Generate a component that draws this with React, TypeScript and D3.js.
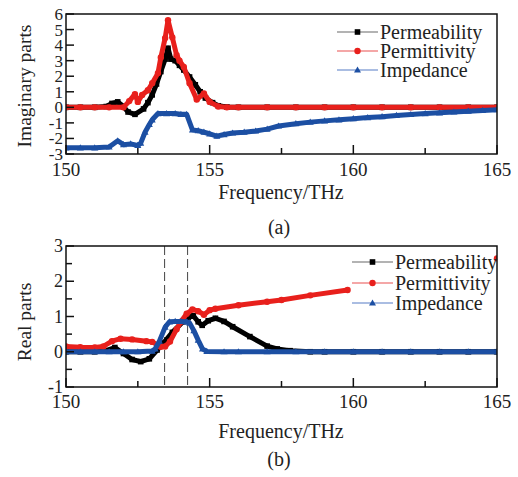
import React from 'react';
import * as d3 from 'd3';

// ---------- data ----------
const seriesNames = ['Permeability', 'Permittivity', 'Impedance'];
const xMajorTicks = [150, 155, 160, 165];
const xMinorTicks = [152.5, 157.5, 162.5];
const yTicksA = [-3, -2, -1, 0, 1, 2, 3, 4, 5, 6];
const yTicksB = [-1, 0, 1, 2, 3];
const yMinorTicksB = [-0.5, 0.5, 1.5, 2.5];
const dashedFreqs = [153.43, 154.23];

// (a) imaginary parts
const imPermX = [150, 150.5, 151, 151.4, 151.6, 151.8, 152.0, 152.16, 152.4, 152.7, 152.85, 153.0, 153.15, 153.3, 153.45, 153.55, 153.65, 153.8, 153.95, 154.1, 154.3, 154.5, 154.67, 154.85, 155.1, 155.3, 155.6, 156, 157, 158, 159, 160, 161, 162, 163, 164, 165];
const imPermY = [0, 0, 0, 0.05, 0.25, 0.35, 0.05, -0.3, -0.45, -0.1, 0.3, 0.8, 1.5, 2.3, 3.1, 3.8, 3.1, 3.0, 2.7, 2.4, 1.95, 1.45, 1.0, 0.6, 0.3, 0.1, 0.02, 0, 0, 0, 0, 0, 0, 0, 0, 0, 0];

const imPermitX = [150, 150.5, 151, 151.5, 152.0, 152.2, 152.4, 152.5, 152.65, 152.85, 153.0, 153.2, 153.3, 153.45, 153.55, 153.7, 153.85, 153.95, 154.1, 154.3, 154.55, 154.8, 155.0, 155.3, 155.6, 156, 157, 158, 159, 160, 161, 162, 163, 164, 165];
const imPermitY = [0, 0, 0, 0, 0, 0.4, 0.85, 0.35, 0.8, 1.1, 1.55, 2.2, 3.2, 4.45, 5.6, 4.5, 3.35, 3.0, 2.6, 1.55, 0.5, 0.9, 0.35, 0.05, 0, 0, 0, 0, 0, 0, 0, 0, 0, 0, 0];

const imImpX = [150, 150.5, 151, 151.5, 151.8, 152.0, 152.25, 152.5, 152.6, 152.75, 152.9, 153.0, 153.2, 153.5, 153.8, 154.0, 154.2, 154.4, 154.6, 154.8, 155.0, 155.25, 155.5, 155.8, 156.2, 156.6, 157.0, 157.4, 158.0, 158.5, 159, 159.5, 160, 160.5, 161, 161.5, 162, 162.5, 163, 163.5, 164, 164.5, 165];
const imImpY = [-2.6, -2.6, -2.6, -2.55, -2.15, -2.4, -2.35, -2.45, -2.3, -1.6, -1.1, -0.8, -0.4, -0.4, -0.4, -0.45, -0.45, -1.45, -1.5, -1.6, -1.7, -1.85, -1.75, -1.65, -1.6, -1.52, -1.4, -1.2, -1.05, -0.95, -0.87, -0.8, -0.73, -0.66, -0.6, -0.52, -0.46, -0.4, -0.35, -0.3, -0.25, -0.2, -0.15];

// (b) real parts
const rePermX = [150, 150.5, 151, 151.4, 151.7, 152.0, 152.3, 152.6, 152.9, 153.17, 153.4, 153.7, 154.07, 154.25, 154.43, 154.6, 154.74, 154.95, 155.2, 155.5, 155.8, 156.4, 157.0, 157.35, 157.8, 158.5, 159, 160, 161, 162, 163, 164, 165];
const rePermY = [0, 0, 0, 0.03, 0.12, -0.05, -0.22, -0.28, -0.2, 0.05, 0.25, 0.55, 0.85, 0.97, 1.02, 0.85, 0.75, 0.88, 0.95, 0.86, 0.71, 0.43, 0.16, 0.08, 0.03, 0, 0, 0, 0, 0, 0, 0, 0];

const rePermitX = [150, 150.5, 151, 151.3, 151.6, 151.9, 152.3, 152.8, 153.0, 153.3, 153.45, 153.62, 153.85, 154.0, 154.2, 154.4, 154.6, 154.8, 155.0, 155.2, 156.0, 157.0, 157.5, 158.5, 159.8, 160.0, 165];
const rePermitY = [0.15, 0.13, 0.12, 0.15, 0.3, 0.37, 0.35, 0.3, 0.28, 0.14, 0.15, 0.29, 0.64, 0.85, 1.08, 1.2, 1.15, 1.05, 1.18, 1.22, 1.32, 1.42, 1.47, 1.6, 1.75, null, 2.65];

const reImpX = [150, 150.5, 151, 151.5, 152, 152.5, 153.0, 153.1, 153.25, 153.45, 153.6, 153.8, 154.0, 154.2, 154.3, 154.45, 154.6, 154.75, 154.9, 155.5, 156, 157, 158, 159, 160, 161, 162, 163, 164, 165];
const reImpY = [0, 0, 0, 0, 0, 0, 0.02, 0.08, 0.3, 0.7, 0.85, 0.86, 0.86, 0.85, 0.82, 0.6, 0.33, 0.08, 0.01, 0, 0, 0, 0, 0, 0, 0, 0, 0, 0, 0];

// ---------- styles ----------
const colors = ['#000000', '#e8201c', '#1c4fa3'];
const legendLine = ['#9a9a9a', '#f08a8a', '#8ea7d8'];
const FONT = "'Liberation Serif', 'DejaVu Serif', 'Times New Roman', Times, serif";

const W = 518;
const H = 477;
const LEFT = 66;
const RIGHT = 497;

type Pt = { x: number; y: number | null };
const zip = (xs: number[], ys: (number | null)[]): Pt[] => xs.map((x, i) => ({ x, y: ys[i] }));

function Marker({ kind, x, y, color }: { kind: number; x: number; y: number; color: string }) {
  if (kind === 0) return <rect x={x - 2.8} y={y - 2.8} width={5.6} height={5.6} fill={color} />;
  if (kind === 1) return <circle cx={x} cy={y} r={3.2} fill={color} />;
  return <path d={`M${x},${y - 3.6} L${x + 3.5},${y + 2.6} L${x - 3.5},${y + 2.6} Z`} fill={color} />;
}

interface PanelProps {
  id: string;
  top: number;
  bottom: number;
  yDomain: [number, number];
  yTicks: number[];
  yMinor: number[];
  yLabel: string;
  yLabelY: number;
  series: Pt[][];
  legendX: number;
  legendLineEnd: number;
  legendRows: number[];
  dashed: number[];
  tickLabelY: number;
  titleY: number;
  caption: string;
  captionY: number;
  yTickFont: number;
}

function Panel(p: PanelProps) {
  const x = d3.scaleLinear().domain([150, 165]).range([LEFT, RIGHT]);
  const y = d3.scaleLinear().domain(p.yDomain).range([p.bottom, p.top]);
  const line = d3
    .line<Pt>()
    .defined((d) => d.y !== null)
    .x((d) => x(d.x))
    .y((d) => y(d.y as number));
  const order = [0, 1, 2];
  const txt = { fontFamily: FONT };
  return (
    <g>
      <defs>
        <clipPath id={`clip-${p.id}`}>
          <rect x={LEFT} y={p.top} width={RIGHT - LEFT} height={p.bottom - p.top} />
        </clipPath>
      </defs>
      {p.dashed.map((f, i) => (
        <line key={i} x1={x(f)} x2={x(f)} y1={p.top} y2={p.bottom} stroke="#555" strokeWidth={1.1} strokeDasharray="9,4" />
      ))}
      <g clipPath={`url(#clip-${p.id})`}>
        {order.map((si) => (
          <g key={si}>
            <path d={line(p.series[si]) || ''} fill="none" stroke={colors[si]} strokeWidth={5} strokeLinejoin="round" />
            {p.series[si]
              .filter((d) => d.y !== null)
              .map((d, j) => (
                <Marker key={j} kind={si} x={x(d.x)} y={y(d.y as number)} color={colors[si]} />
              ))}
          </g>
        ))}
      </g>
      <rect x={LEFT} y={p.top} width={RIGHT - LEFT} height={p.bottom - p.top} fill="none" stroke="#111" strokeWidth={1.5} />
      {xMajorTicks.map((t) => (
        <g key={t}>
          <line x1={x(t)} x2={x(t)} y1={p.bottom} y2={p.bottom - 9} stroke="#111" strokeWidth={1.5} />
          <text x={x(t)} y={p.tickLabelY} textAnchor="middle" style={txt} fontSize={19} fill="#222">
            {t}
          </text>
        </g>
      ))}
      {xMinorTicks.map((t) => (
        <line key={t} x1={x(t)} x2={x(t)} y1={p.bottom} y2={p.bottom - 6} stroke="#111" strokeWidth={1.5} />
      ))}
      {p.yTicks.map((t) => (
        <g key={t}>
          <line x1={LEFT} x2={LEFT + 8} y1={y(t)} y2={y(t)} stroke="#111" strokeWidth={1.5} />
          <text x={63} y={y(t) + 6} textAnchor="end" style={txt} fontSize={p.yTickFont} fill="#222">
            {t}
          </text>
        </g>
      ))}
      {p.yMinor.map((t) => (
        <line key={t} x1={LEFT} x2={LEFT + 6} y1={y(t)} y2={y(t)} stroke="#111" strokeWidth={1.5} />
      ))}
      <text
        transform={`translate(31,${p.yLabelY}) rotate(-90)`}
        textAnchor="middle"
        style={txt}
        fontSize={19.5}
        fill="#222"
      >
        {p.yLabel}
      </text>
      <text x={281} y={p.titleY} textAnchor="middle" style={txt} fontSize={20} fill="#222">
        Frequency/THz
      </text>
      <text x={279} y={p.captionY} textAnchor="middle" style={txt} fontSize={20} fill="#222">
        {p.caption}
      </text>
      {seriesNames.map((name, i) => {
        const ry = p.legendRows[i];
        const mid = (p.legendX + p.legendLineEnd) / 2;
        return (
          <g key={name}>
            <line x1={p.legendX} x2={p.legendLineEnd} y1={ry} y2={ry} stroke={legendLine[i]} strokeWidth={1.5} />
            <Marker kind={i} x={mid} y={ry} color={colors[i]} />
            <text x={p.legendLineEnd + 2} y={ry + 6.5} style={txt} fontSize={20} fill="#222">
              {name}
            </text>
          </g>
        );
      })}
    </g>
  );
}

export default function App() {
  const seriesA = [zip(imPermX, imPermY), zip(imPermitX, imPermitY), zip(imImpX, imImpY)];
  const seriesB = [zip(rePermX, rePermY), zip(rePermitX, rePermitY), zip(reImpX, reImpY)];
  return (
    <svg
      width={W}
      height={H}
      viewBox={`0 0 ${W} ${H}`}
      style={{ position: 'absolute', left: 0, top: 0, background: '#fff' }}
    >
      <rect x={0} y={0} width={W} height={H} fill="#fff" />
      <Panel
        id="a"
        top={14}
        bottom={154}
        yDomain={[-3, 6]}
        yTicks={yTicksA}
        yMinor={[]}
        yLabel="Imaginary parts"
        yLabelY={86}
        series={seriesA}
        legendX={337}
        legendLineEnd={378}
        legendRows={[32, 51, 70]}
        dashed={[]}
        tickLabelY={176}
        titleY={199}
        caption="(a)"
        captionY={234}
        yTickFont={17}
      />
      <Panel
        id="b"
        top={246}
        bottom={387}
        yDomain={[-1, 3]}
        yTicks={yTicksB}
        yMinor={yMinorTicksB}
        yLabel="Real parts"
        yLabelY={322}
        series={seriesB}
        legendX={352}
        legendLineEnd={393}
        legendRows={[262, 283, 303]}
        dashed={dashedFreqs}
        tickLabelY={408}
        titleY={438}
        caption="(b)"
        captionY={466}
        yTickFont={18}
      />
    </svg>
  );
}
